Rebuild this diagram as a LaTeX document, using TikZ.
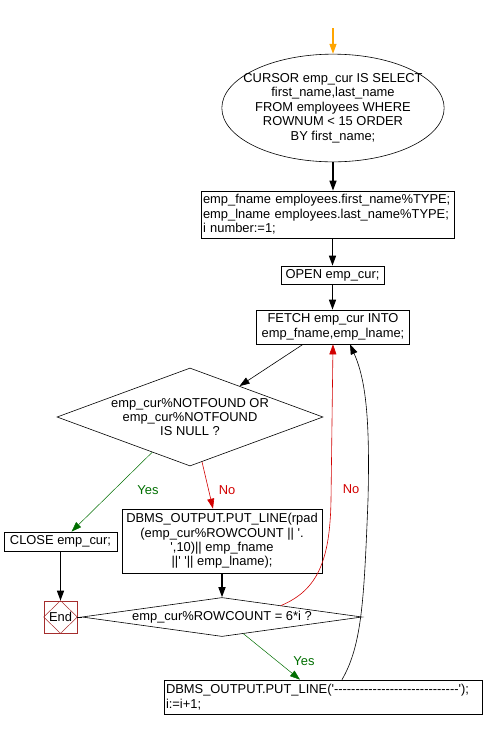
\documentclass[tikz,border=0pt]{standalone}
\usepackage{fontspec}
\setmainfont{Liberation Sans}[Ligatures=TeXOff]
\usetikzlibrary{arrows.meta}
\usetikzlibrary{shapes.geometric}
\usetikzlibrary{calc}
\definecolor{startorange}{RGB}{255,165,0}
\definecolor{yesgreen}{RGB}{0,110,0}
\definecolor{nored}{RGB}{210,0,0}
\definecolor{endbrown}{RGB}{165,45,45}
\begin{document}
\begin{tikzpicture}[x=1pt,y=-1pt,
    every node/.style={font=\fontsize{12.9}{14.4}\selectfont},
    stepbox/.style={draw,rectangle,inner sep=0pt,line width=0.7pt},
    testbox/.style={draw,diamond,inner sep=0pt,line width=0.6pt,align=center},
    arr/.style={-{Triangle[length=10pt,width=7pt]}},
    thickarr/.style={arr,line width=1.4pt},
    yesline/.style={arr,yesgreen,line width=0.5pt},
    noline/.style={arr,nored,line width=0.6pt}]

    \useasboundingbox (0,0) rectangle (484,729);

    \coordinate (start) at (333,28);
    \node[draw,ellipse,line width=0.6pt,inner xsep=-11pt,inner ysep=3.5pt,align=center] (cursor) at (333,108)
        {CURSOR emp\_cur IS SELECT\\first\_name,last\_name\\FROM employees WHERE\\ROWNUM < 15 ORDER\\BY first\_name;};
    \node[stepbox,minimum width=253,minimum height=47,text width=249,align=left] (decl) at (327.5,214.5)
        {emp\_fname employees.first\_name\%TYPE;\\emp\_lname employees.last\_name\%TYPE;\\i number:=1;};
    \node[stepbox,minimum width=103,minimum height=18] (open) at (332.5,275) {OPEN emp\_cur;};
    \node[stepbox,minimum width=153,minimum height=34,align=center] (fetch) at (333,327)
        {FETCH emp\_cur INTO\\emp\_fname,emp\_lname;};
    \node[testbox,minimum width=266,minimum height=98,shape aspect=2.7] (cond1) at (190,417)
        {emp\_cur\%NOTFOUND OR\\emp\_cur\%NOTFOUND\\IS NULL ?};
    \node[stepbox,minimum width=113,minimum height=19] (close) at (60.5,541.5) {CLOSE emp\_cur;};
    \node[stepbox,minimum width=200,minimum height=64,align=center] (put1) at (222,541)
        {DBMS\_OUTPUT.PUT\_LINE(rpad\\(emp\_cur\%ROWCOUNT || '.\\',10)|| emp\_fname\\||' '|| emp\_lname);};
    \node[draw=endbrown,line width=0.7pt,minimum width=33,minimum height=32,inner sep=0pt] (endn) at (60.5,617) {End};
    \draw[endbrown,line width=0.5pt] (endn.north) -- (endn.east) -- (endn.south) -- (endn.west) -- cycle;
    \node[testbox,minimum width=280,minimum height=39,shape aspect=7.2] (cond2) at (222,617)
        {emp\_cur\%ROWCOUNT = 6*i ?};
    \node[stepbox,minimum width=318,minimum height=34,text width=314,align=left] (put2) at (323,697)
        {DBMS\_OUTPUT.PUT\_LINE('-----------------------------');\\i:=i+1;};

    \node[text=yesgreen] (yes1) at (148,490) {Yes};
    \node[text=nored] (no1) at (227,490) {No};
    \node[text=nored] (no2) at (351,489) {No};
    \node[text=yesgreen] (yes2) at (304,661) {Yes};

    \draw[arr,startorange,line width=1.2pt] (start) -- (cursor.north);
    \draw[thickarr] (cursor.south) -- (cursor.south |- decl.north);
    \draw[thickarr] (open.north |- decl.south) -- (open.north);
    \draw[thickarr] (open.south) -- (open.south |- fetch.north);
    \draw[arr,line width=0.6pt] ($(fetch.south)+(-30,0)$) -- (cond1.32);
    \draw[yesline] (cond1.223) -- ($(close.north)+(11,0)$);
    \draw[noline] (cond1.285) -- ($(put1.north)+(-9,0)$);
    \draw[thickarr] (close.south) -- (endn.north);
    \draw[thickarr] (put1.south) -- (cond2.north);
    \draw[line width=0.6pt] (cond2.west) -- (endn.east);
    \draw[yesline] (cond2.322) -- ($(put2.north)+(-23,0)$);
    \draw[noline] (cond2.11) .. controls (318,590) and (330,560) .. (331,500) -- (fetch.south);
    \draw[arr,line width=0.6pt] ($(put2.north)+(19,0)$) .. controls (362,645) and (364,600) .. (368,500)
        .. controls (370,420) and (366,380) .. ($(fetch.south)+(17,0)$);

\end{tikzpicture}
\end{document}
